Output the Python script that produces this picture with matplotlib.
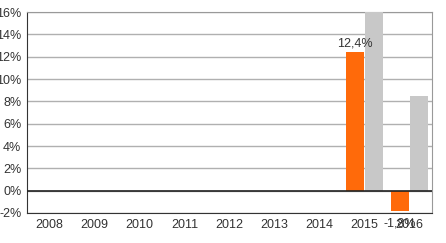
import matplotlib.pyplot as plt
import numpy as np

years = ['2008', '2009', '2010', '2011', '2012', '2013', '2014', '2015', '2016']
serie_a = [np.nan] * 7 + [12.4, -1.8]
serie_b = [np.nan] * 7 + [16.5, 8.5]
labels_a = {7: '12,4%', 8: '-1,8%'}

plt.rcParams['font.family'] = ['Liberation Sans', 'DejaVu Sans']

fig = plt.figure(figsize=(4.46, 2.43), dpi=100)
ax = fig.add_axes([0.0605, 0.1235, 0.908, 0.827])

x = np.arange(len(years))
w = 0.4
ax.bar(x - 0.21, serie_a, width=w, color='#ff6a0a', zorder=3)
ax.bar(x + 0.21, serie_b, width=w, color='#c8c8c8', zorder=3)

for i, txt in labels_a.items():
    v = serie_a[i]
    ax.text(x[i] - 0.21, v + 0.25 if v > 0 else v - 0.6, txt, ha='center',
            va='bottom' if v > 0 else 'top', fontsize=9, color='#333333', zorder=4)

ax.set_xlim(-0.5, len(years) - 0.5)
ax.set_ylim(-2, 16)
ax.set_yticks(np.arange(-2, 17, 2))
ax.set_yticklabels([f'{v}%' for v in range(-2, 17, 2)])
ax.set_xticks(x)
ax.set_xticklabels(years)
ax.tick_params(length=0, labelsize=9, colors='#333333', pad=4)
ax.grid(True, axis='y', color='#b0b0b0', linewidth=1, zorder=0)
ax.axhline(0, color='#222222', linewidth=1.2, zorder=4)
for s in ['left', 'bottom']:
    ax.spines[s].set_color('#333333')
for s in ['top', 'right']:
    ax.spines[s].set_color('#999999')

fig.savefig('out.png', dpi=100)
